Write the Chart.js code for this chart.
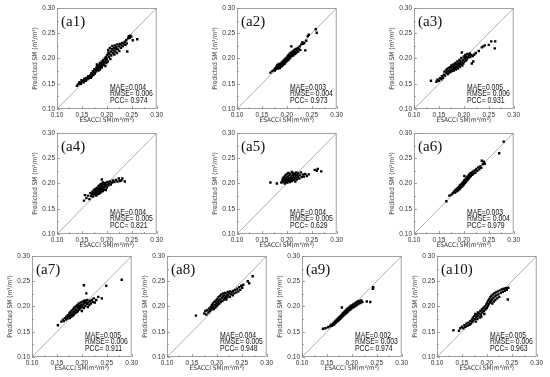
<!DOCTYPE html>
<html>
<head>
<meta charset="utf-8">
<script src="https://cdn.jsdelivr.net/npm/chart.js@4.4.1/dist/chart.umd.min.js"></script>
<style>
  body { margin: 0; background: #fff; }
  #wrap { position: relative; width: 550px; height: 377px; overflow: hidden; }
  .panel { position: absolute; }
</style>
</head>
<body>
<div id="wrap"></div>
<script>
// axis ticks shared by every panel
const tickVals = [0.10, 0.15, 0.20, 0.25, 0.30];
const minorTickVals = [0.125, 0.175, 0.225, 0.275];
const oneToOne = [0.10, 0.30];

const panelNames = ['(a1)', '(a2)', '(a3)', '(a4)', '(a5)', '(a6)', '(a7)', '(a8)', '(a9)', '(a10)'];
const maeVals  = ['0.004', '0.003', '0.005', '0.004', '0.004', '0.003', '0.005', '0.004', '0.002', '0.005'];
const rmseVals = ['0.006', '0.004', '0.006', '0.005', '0.005', '0.004', '0.006', '0.005', '0.003', '0.006'];
const pccVals  = ['0.974', '0.973', '0.931', '0.821', '0.629', '0.979', '0.911', '0.948', '0.974', '0.963'];

// [ESACCI SM, predicted SM]
const a1Pts = [[0.140,0.146],[0.143,0.149],[0.146,0.151],[0.145,0.153],[0.148,0.150],[0.150,0.154],[0.152,0.156],[0.149,0.157],[0.154,0.153],[0.156,0.158],[0.155,0.160],[0.158,0.156],[0.159,0.161],[0.161,0.159],[0.162,0.163],[0.164,0.161],[0.163,0.165],[0.166,0.164],[0.168,0.162],[0.167,0.167],[0.170,0.165],[0.171,0.169],[0.169,0.171],[0.173,0.167],[0.174,0.172],[0.172,0.175],[0.176,0.170],[0.177,0.177],[0.175,0.179],[0.178,0.174],[0.179,0.182],[0.180,0.178],[0.181,0.185],[0.182,0.180],[0.180,0.188],[0.184,0.183],[0.183,0.176],[0.185,0.187],[0.186,0.191],[0.187,0.181],[0.188,0.185],[0.186,0.178],[0.189,0.189],[0.190,0.194],[0.191,0.186],[0.192,0.191],[0.190,0.182],[0.193,0.197],[0.194,0.188],[0.195,0.193],[0.196,0.200],[0.197,0.185],[0.198,0.196],[0.199,0.191],[0.198,0.203],[0.200,0.199],[0.201,0.207],[0.202,0.194],[0.203,0.212],[0.204,0.203],[0.203,0.217],[0.205,0.209],[0.206,0.221],[0.207,0.199],[0.208,0.214],[0.209,0.206],[0.210,0.219],[0.211,0.225],[0.212,0.211],[0.213,0.216],[0.214,0.221],[0.215,0.208],[0.216,0.226],[0.217,0.214],[0.218,0.219],[0.219,0.223],[0.220,0.211],[0.221,0.228],[0.222,0.218],[0.224,0.224],[0.225,0.215],[0.226,0.229],[0.228,0.221],[0.229,0.226],[0.231,0.231],[0.232,0.224],[0.234,0.229],[0.236,0.233],[0.237,0.227],[0.239,0.236],[0.240,0.230],[0.241,0.214],[0.243,0.240],[0.244,0.244],[0.246,0.241],[0.247,0.245],[0.249,0.243],[0.252,0.236],[0.261,0.238]];
const a2Pts = [[0.167,0.172],[0.171,0.175],[0.174,0.178],[0.176,0.176],[0.177,0.181],[0.179,0.184],[0.178,0.179],[0.180,0.182],[0.181,0.187],[0.182,0.180],[0.183,0.185],[0.184,0.189],[0.185,0.183],[0.185,0.187],[0.186,0.181],[0.187,0.186],[0.188,0.190],[0.188,0.184],[0.189,0.188],[0.190,0.192],[0.190,0.185],[0.191,0.189],[0.192,0.194],[0.192,0.187],[0.193,0.191],[0.194,0.196],[0.194,0.189],[0.195,0.193],[0.196,0.198],[0.196,0.190],[0.197,0.195],[0.198,0.200],[0.198,0.193],[0.199,0.197],[0.200,0.202],[0.200,0.195],[0.201,0.199],[0.202,0.205],[0.203,0.197],[0.203,0.202],[0.204,0.207],[0.205,0.200],[0.206,0.204],[0.206,0.210],[0.207,0.202],[0.208,0.207],[0.209,0.224],[0.209,0.212],[0.210,0.205],[0.211,0.209],[0.212,0.214],[0.213,0.206],[0.214,0.211],[0.215,0.217],[0.216,0.209],[0.217,0.213],[0.218,0.219],[0.219,0.211],[0.220,0.216],[0.222,0.221],[0.223,0.214],[0.224,0.219],[0.226,0.224],[0.227,0.217],[0.229,0.228],[0.231,0.232],[0.233,0.229],[0.235,0.231],[0.237,0.216],[0.239,0.235],[0.242,0.244],[0.244,0.247],[0.258,0.258],[0.260,0.251]];
const a3Pts = [[0.134,0.156],[0.145,0.154],[0.147,0.158],[0.150,0.156],[0.152,0.161],[0.155,0.159],[0.156,0.165],[0.158,0.162],[0.160,0.168],[0.161,0.174],[0.162,0.166],[0.164,0.176],[0.165,0.171],[0.166,0.179],[0.167,0.174],[0.168,0.169],[0.169,0.181],[0.170,0.176],[0.171,0.172],[0.172,0.183],[0.173,0.178],[0.174,0.174],[0.175,0.186],[0.176,0.180],[0.176,0.175],[0.177,0.184],[0.178,0.178],[0.179,0.188],[0.180,0.182],[0.180,0.176],[0.181,0.186],[0.182,0.180],[0.183,0.191],[0.184,0.184],[0.184,0.178],[0.185,0.188],[0.186,0.182],[0.187,0.194],[0.188,0.186],[0.188,0.180],[0.189,0.191],[0.190,0.185],[0.191,0.197],[0.192,0.189],[0.192,0.183],[0.193,0.194],[0.194,0.188],[0.195,0.201],[0.196,0.212],[0.196,0.192],[0.197,0.186],[0.198,0.197],[0.199,0.190],[0.200,0.204],[0.201,0.194],[0.202,0.200],[0.203,0.207],[0.204,0.196],[0.205,0.203],[0.206,0.198],[0.207,0.209],[0.209,0.202],[0.210,0.206],[0.212,0.210],[0.213,0.203],[0.215,0.207],[0.216,0.190],[0.218,0.205],[0.219,0.194],[0.221,0.208],[0.224,0.211],[0.230,0.215],[0.236,0.222],[0.239,0.224],[0.242,0.226],[0.250,0.227],[0.255,0.234],[0.262,0.220],[0.263,0.234]];
const a4Pts = [[0.154,0.166],[0.156,0.177],[0.159,0.171],[0.162,0.176],[0.165,0.169],[0.167,0.181],[0.168,0.175],[0.170,0.179],[0.171,0.184],[0.172,0.174],[0.173,0.181],[0.174,0.187],[0.175,0.177],[0.176,0.183],[0.177,0.189],[0.177,0.179],[0.178,0.185],[0.179,0.176],[0.180,0.191],[0.180,0.182],[0.181,0.187],[0.182,0.179],[0.183,0.194],[0.183,0.184],[0.184,0.189],[0.185,0.180],[0.185,0.196],[0.186,0.186],[0.187,0.191],[0.187,0.182],[0.188,0.199],[0.188,0.188],[0.189,0.193],[0.189,0.184],[0.190,0.208],[0.190,0.196],[0.191,0.189],[0.192,0.202],[0.192,0.185],[0.193,0.194],[0.194,0.199],[0.194,0.188],[0.195,0.192],[0.196,0.201],[0.197,0.195],[0.198,0.187],[0.199,0.198],[0.200,0.192],[0.201,0.203],[0.203,0.196],[0.204,0.200],[0.206,0.204],[0.208,0.198],[0.210,0.202],[0.212,0.206],[0.215,0.203],[0.218,0.207],[0.221,0.204],[0.224,0.210],[0.226,0.205],[0.229,0.206],[0.231,0.210],[0.236,0.204]];
const a5Pts = [[0.167,0.202],[0.180,0.200],[0.189,0.202],[0.191,0.206],[0.192,0.210],[0.193,0.203],[0.194,0.213],[0.195,0.207],[0.196,0.200],[0.197,0.216],[0.197,0.210],[0.198,0.204],[0.199,0.212],[0.200,0.207],[0.200,0.219],[0.201,0.202],[0.202,0.214],[0.203,0.209],[0.203,0.221],[0.204,0.205],[0.205,0.216],[0.206,0.211],[0.206,0.203],[0.207,0.219],[0.208,0.208],[0.209,0.214],[0.210,0.223],[0.210,0.205],[0.211,0.211],[0.212,0.217],[0.213,0.207],[0.213,0.221],[0.214,0.213],[0.215,0.209],[0.216,0.219],[0.217,0.204],[0.217,0.215],[0.218,0.211],[0.219,0.222],[0.220,0.208],[0.221,0.217],[0.222,0.213],[0.223,0.220],[0.225,0.210],[0.226,0.216],[0.228,0.222],[0.230,0.213],[0.232,0.218],[0.234,0.214],[0.237,0.219],[0.240,0.215],[0.244,0.218],[0.256,0.227],[0.260,0.225],[0.262,0.229],[0.269,0.224]];
const a6Pts = [[0.165,0.165],[0.171,0.176],[0.175,0.178],[0.178,0.181],[0.180,0.184],[0.182,0.182],[0.183,0.187],[0.185,0.184],[0.186,0.189],[0.187,0.186],[0.188,0.191],[0.189,0.187],[0.190,0.193],[0.191,0.189],[0.192,0.195],[0.192,0.190],[0.193,0.197],[0.194,0.192],[0.195,0.198],[0.196,0.194],[0.197,0.200],[0.197,0.195],[0.198,0.202],[0.199,0.197],[0.200,0.204],[0.200,0.199],[0.201,0.215],[0.201,0.206],[0.202,0.201],[0.203,0.208],[0.204,0.203],[0.205,0.210],[0.205,0.205],[0.206,0.212],[0.207,0.207],[0.208,0.214],[0.209,0.209],[0.210,0.216],[0.210,0.211],[0.211,0.218],[0.212,0.213],[0.213,0.220],[0.214,0.215],[0.215,0.221],[0.216,0.217],[0.217,0.222],[0.218,0.218],[0.219,0.224],[0.220,0.220],[0.222,0.226],[0.223,0.221],[0.225,0.229],[0.227,0.225],[0.229,0.232],[0.231,0.228],[0.233,0.234],[0.235,0.231],[0.236,0.245],[0.238,0.238],[0.240,0.243],[0.242,0.239],[0.271,0.260],[0.280,0.283]];
const a7Pts = [[0.152,0.163],[0.159,0.170],[0.162,0.174],[0.164,0.171],[0.166,0.177],[0.168,0.174],[0.169,0.180],[0.171,0.176],[0.172,0.183],[0.173,0.179],[0.175,0.186],[0.175,0.181],[0.176,0.177],[0.177,0.189],[0.178,0.184],[0.179,0.180],[0.180,0.192],[0.181,0.186],[0.182,0.182],[0.183,0.195],[0.184,0.189],[0.184,0.184],[0.185,0.198],[0.186,0.192],[0.187,0.187],[0.188,0.200],[0.189,0.194],[0.190,0.189],[0.191,0.203],[0.192,0.197],[0.192,0.191],[0.193,0.200],[0.194,0.206],[0.195,0.194],[0.196,0.201],[0.197,0.197],[0.198,0.208],[0.199,0.203],[0.200,0.191],[0.201,0.199],[0.202,0.210],[0.203,0.204],[0.204,0.242],[0.204,0.197],[0.205,0.207],[0.206,0.212],[0.207,0.201],[0.208,0.209],[0.209,0.226],[0.210,0.205],[0.211,0.213],[0.212,0.199],[0.213,0.208],[0.215,0.203],[0.216,0.211],[0.218,0.206],[0.220,0.213],[0.222,0.209],[0.224,0.216],[0.226,0.208],[0.229,0.213],[0.233,0.219],[0.240,0.216],[0.249,0.241],[0.280,0.253]];
const a8Pts = [[0.158,0.182],[0.175,0.186],[0.177,0.191],[0.179,0.184],[0.181,0.193],[0.183,0.188],[0.185,0.196],[0.186,0.191],[0.188,0.199],[0.189,0.194],[0.190,0.203],[0.191,0.197],[0.192,0.206],[0.193,0.200],[0.194,0.195],[0.195,0.209],[0.196,0.203],[0.197,0.198],[0.198,0.212],[0.199,0.206],[0.200,0.201],[0.201,0.215],[0.202,0.209],[0.202,0.204],[0.203,0.218],[0.204,0.212],[0.205,0.206],[0.206,0.221],[0.207,0.214],[0.208,0.209],[0.209,0.224],[0.210,0.217],[0.211,0.211],[0.212,0.220],[0.213,0.226],[0.214,0.214],[0.215,0.222],[0.216,0.217],[0.217,0.227],[0.218,0.220],[0.219,0.214],[0.220,0.224],[0.221,0.218],[0.222,0.229],[0.223,0.222],[0.225,0.226],[0.226,0.219],[0.227,0.230],[0.229,0.224],[0.230,0.228],[0.232,0.222],[0.233,0.231],[0.235,0.226],[0.237,0.233],[0.239,0.228],[0.241,0.235],[0.243,0.230],[0.245,0.238],[0.247,0.233],[0.249,0.241],[0.251,0.237],[0.253,0.243],[0.262,0.250],[0.265,0.246],[0.272,0.260]];
const a9Pts = [[0.142,0.156],[0.147,0.157],[0.152,0.159],[0.156,0.161],[0.158,0.164],[0.160,0.162],[0.162,0.166],[0.163,0.164],[0.164,0.168],[0.165,0.165],[0.166,0.170],[0.167,0.167],[0.168,0.172],[0.169,0.169],[0.170,0.174],[0.171,0.171],[0.172,0.176],[0.173,0.172],[0.174,0.178],[0.175,0.174],[0.176,0.180],[0.177,0.176],[0.178,0.182],[0.179,0.178],[0.180,0.198],[0.180,0.184],[0.181,0.180],[0.182,0.186],[0.183,0.182],[0.184,0.188],[0.185,0.184],[0.186,0.190],[0.187,0.186],[0.188,0.192],[0.189,0.187],[0.190,0.194],[0.191,0.189],[0.192,0.196],[0.193,0.191],[0.194,0.197],[0.195,0.193],[0.196,0.199],[0.197,0.194],[0.198,0.201],[0.199,0.196],[0.200,0.202],[0.201,0.198],[0.203,0.204],[0.204,0.199],[0.206,0.206],[0.207,0.201],[0.209,0.208],[0.210,0.203],[0.212,0.210],[0.213,0.205],[0.215,0.211],[0.217,0.207],[0.219,0.212],[0.221,0.209],[0.230,0.210],[0.237,0.209],[0.242,0.235],[0.243,0.238]];
const a10Pts = [[0.133,0.153],[0.144,0.152],[0.147,0.157],[0.150,0.160],[0.153,0.157],[0.155,0.163],[0.157,0.160],[0.159,0.166],[0.161,0.162],[0.163,0.168],[0.165,0.164],[0.167,0.171],[0.168,0.166],[0.170,0.174],[0.171,0.169],[0.172,0.178],[0.173,0.172],[0.175,0.181],[0.176,0.175],[0.177,0.185],[0.178,0.170],[0.179,0.179],[0.180,0.184],[0.181,0.175],[0.182,0.188],[0.183,0.181],[0.185,0.186],[0.186,0.178],[0.187,0.191],[0.188,0.184],[0.189,0.180],[0.190,0.194],[0.191,0.188],[0.193,0.197],[0.194,0.191],[0.195,0.185],[0.196,0.200],[0.197,0.194],[0.199,0.204],[0.200,0.197],[0.201,0.208],[0.202,0.201],[0.203,0.212],[0.204,0.205],[0.205,0.215],[0.206,0.208],[0.207,0.218],[0.208,0.211],[0.209,0.221],[0.210,0.214],[0.211,0.206],[0.212,0.224],[0.213,0.217],[0.214,0.210],[0.215,0.226],[0.216,0.220],[0.217,0.213],[0.218,0.228],[0.219,0.222],[0.221,0.216],[0.222,0.230],[0.223,0.224],[0.225,0.219],[0.226,0.232],[0.228,0.227],[0.230,0.234],[0.232,0.229],[0.234,0.235],[0.236,0.231],[0.238,0.236],[0.240,0.233],[0.242,0.214],[0.243,0.237]];

const panelPts = [a1Pts, a2Pts, a3Pts, a4Pts, a5Pts, a6Pts, a7Pts, a8Pts, a9Pts, a10Pts];

// where each plot box sits on the page (left, top of the plot area)
const plotPos = [[57,8],[237,8],[414,8],[57,133],[237,133],[414,133],[32,256],[167,256],[302,256],[437,256]];
const plotW = 102, plotH = 101;
const axisW = 30, axisH = 17, padTop = 6, padRight = 6;

const sansFont = "'Liberation Sans', Arial, sans-serif";
const narrowFont = "'Liberation Sans Narrow', 'DejaVu Sans Condensed', sans-serif";

// squeezed text, the stats in the figure use a condensed face
function narrowText(ctx, txt, x, y, sx) {
  ctx.save();
  ctx.translate(x, y);
  ctx.scale(sx, 1);
  ctx.fillText(txt, 0, 0);
  ctx.restore();
}

function panelText(i) {
  return {
    id: 'panelText' + i,
    afterDatasetsDraw(chart) {
      const ctx = chart.ctx;
      const a = chart.chartArea;
      const sx = chart.scales.x, sy = chart.scales.y;
      ctx.save();
      // frame round the plot
      ctx.strokeStyle = '#8a8a8a';
      ctx.lineWidth = 0.8;
      ctx.strokeRect(a.left + 0.5, a.top + 0.5, a.right - a.left - 1, a.bottom - a.top - 1);

      // inward tick marks on bottom and left
      ctx.beginPath();
      tickVals.forEach(v => {
        const px = Math.round(sx.getPixelForValue(v)) + 0.5;
        const py = Math.round(sy.getPixelForValue(v)) + 0.5;
        ctx.moveTo(px, a.bottom); ctx.lineTo(px, a.bottom - 3);
        ctx.moveTo(a.left, py); ctx.lineTo(a.left + 3, py);
      });
      minorTickVals.forEach(v => {
        const px = Math.round(sx.getPixelForValue(v)) + 0.5;
        const py = Math.round(sy.getPixelForValue(v)) + 0.5;
        ctx.moveTo(px, a.bottom); ctx.lineTo(px, a.bottom - 1.8);
        ctx.moveTo(a.left, py); ctx.lineTo(a.left + 1.8, py);
      });
      ctx.stroke();

      ctx.fillStyle = '#111';
      ctx.textBaseline = 'middle';
      ctx.textAlign = 'left';
      ctx.font = "15px 'Liberation Serif', 'Times New Roman', serif";
      ctx.fillText(panelNames[i], a.left + 4, a.top + 14);

      ctx.font = "8.8px 'Liberation Sans', Arial, sans-serif";
      const tx = a.left + 53;
      narrowText(ctx, 'MAE=' + maeVals[i], tx, a.bottom - 21.5, 0.78);
      narrowText(ctx, 'RMSE= ' + rmseVals[i], tx, a.bottom - 15, 0.78);
      narrowText(ctx, 'PCC= ' + pccVals[i], tx, a.bottom - 8.5, 0.78);
      ctx.restore();
    }
  };
}

const wrap = document.getElementById('wrap');

panelPts.forEach((pts, i) => {
  const cv = document.createElement('canvas');
  const w = axisW + plotW + padRight;
  const h = padTop + plotH + axisH;
  cv.width = w;
  cv.height = h;
  cv.className = 'panel';
  cv.style.left = (plotPos[i][0] - axisW) + 'px';
  cv.style.top = (plotPos[i][1] - padTop) + 'px';
  cv.style.width = w + 'px';
  cv.style.height = h + 'px';
  wrap.appendChild(cv);

  new Chart(cv.getContext('2d'), {
    type: 'scatter',
    data: {
      datasets: [{
        type: 'line',
        data: oneToOne.map(v => ({x: v, y: v})),
        borderColor: '#9a9a9a',
        borderWidth: 0.8,
        pointRadius: 0,
        fill: false,
        order: 2
      }, {
        data: pts.map(p => ({x: p[0], y: p[1]})),
        backgroundColor: '#000',
        borderColor: '#000',
        borderWidth: 0,
        pointStyle: 'rect',
        pointRadius: 1.7,
        order: 1
      }]
    },
    options: {
      responsive: false,
      animation: false,
      devicePixelRatio: 1,
      layout: { padding: { left: 0, top: padTop, right: padRight, bottom: 0 } },
      plugins: {
        legend: { display: false },
        tooltip: { enabled: false }
      },
      scales: {
        x: {
          type: 'linear',
          min: tickVals[0],
          max: tickVals[tickVals.length - 1],
          afterBuildTicks: s => { s.ticks = tickVals.map(v => ({value: v})); },
          afterFit: s => { s.height = axisH; },
          ticks: {
            callback: v => v.toFixed(2),
            font: { size: 6.5, family: sansFont },
            color: '#333',
            padding: 2,
            maxRotation: 0,
            autoSkip: false
          },
          grid: { display: false, drawTicks: false },
          border: { display: false },
          title: {
            display: true,
            text: 'ESACCI SM(m³/m³)',
            font: { size: 6.5, family: narrowFont },
            color: '#333',
            padding: { top: 0, bottom: 2 }
          }
        },
        y: {
          type: 'linear',
          min: tickVals[0],
          max: tickVals[tickVals.length - 1],
          afterBuildTicks: s => { s.ticks = tickVals.map(v => ({value: v})); },
          afterFit: s => { s.width = axisW; },
          ticks: {
            callback: v => v.toFixed(2),
            font: { size: 6.5, family: sansFont },
            color: '#333',
            padding: 2,
            autoSkip: false
          },
          grid: { display: false, drawTicks: false },
          border: { display: false },
          title: {
            display: true,
            text: 'Predicted SM (m³/m³)',
            font: { size: 6.5, family: narrowFont },
            color: '#333',
            padding: { top: 4, bottom: 0 }
          }
        }
      }
    },
    plugins: [panelText(i)]
  });
});
</script>
</body>
</html>
